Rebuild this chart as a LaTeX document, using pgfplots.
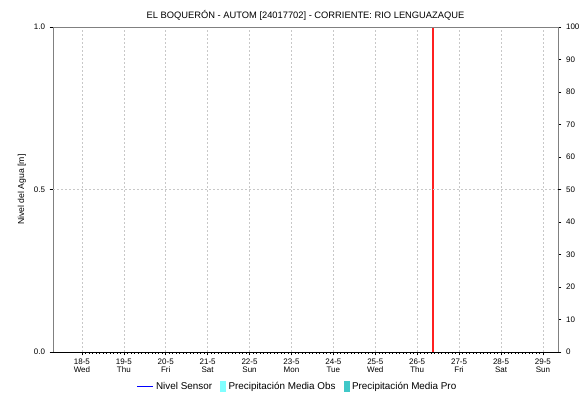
\documentclass[border=0pt]{standalone}
\usepackage{pgfplots}
\pgfplotsset{compat=1.18}
\usepackage{fontspec}
\setmainfont{Liberation Sans}

\definecolor{axgray}{HTML}{808080}
\definecolor{gridgray}{HTML}{C8C8C8}
\definecolor{obscyan}{HTML}{80FFFF}
\definecolor{procyan}{HTML}{40C8C8}
\definecolor{nowred}{HTML}{FF2020}

\begin{document}
\begin{tikzpicture}
\useasboundingbox (0,0) rectangle (441pt,302.25pt);
% left axis: water level
\begin{axis}[
  at={(39.75pt,38.25pt)}, anchor=south west,
  scale only axis, width=378.75pt, height=243.75pt,
  xmin=-0.69, xmax=11.36, ymin=0, ymax=1,
  axis x line*=bottom, axis y line*=left,
  x axis line style={black,-}, y axis line style={axgray,-},
  xtick={0,...,11},
  xticklabels={18-5\\Wed,19-5\\Thu,20-5\\Fri,21-5\\Sat,22-5\\Sun,23-5\\Mon,24-5\\Tue,25-5\\Wed,26-5\\Thu,27-5\\Fri,28-5\\Sat,29-5\\Sun},
  x tick label style={align=center,font=\fontsize{6}{6.5}\selectfont,yshift=1pt},
  minor x tick num=11,
  ytick={0,0.5,1}, yticklabels={0.0,0.5,1.0},
  y tick label style={font=\fontsize{6}{7}\selectfont},
  tick align=outside, major tick length=2.5pt, minor tick length=1.5pt,
  tick style={black,thin},
  xmajorgrids, extra y ticks={0.5}, extra y tick labels={},
  extra y tick style={ymajorgrids, grid style={gridgray,dash pattern=on 1.5pt off 1.5pt}},
  grid style={gridgray,dash pattern=on 1.5pt off 1.5pt},
  title={EL BOQUERÓN - AUTOM [24017702] - CORRIENTE: RIO LENGUAZAQUE},
  title style={font=\fontsize{7}{8}\selectfont, yshift=-4.5pt},
  legend style={at={(0.485,-0.075)}, anchor=north, draw=none, fill=none,
    legend columns=3, font=\fontsize{7.4}{8}\selectfont,
    /tikz/every even column/.append style={column sep=4pt}},
]
\addlegendimage{blue, thin, legend image code/.code={\draw[blue] (0pt,0pt) -- (12pt,0pt);}}
\addlegendentry{Nivel Sensor}
\addlegendimage{legend image code/.code={\fill[obscyan] (0pt,-3.8pt) rectangle (4pt,3.8pt);}}
\addlegendentry{Precipitación Media Obs}
\addlegendimage{legend image code/.code={\fill[procyan] (0pt,-3.8pt) rectangle (4pt,3.8pt);}}
\addlegendentry{Precipitación Media Pro}
% current time marker
\addplot[draw=nowred, line width=1pt, mark=none, forget plot] coordinates {(8.38,0) (8.38,1)};
\end{axis}
% right axis: precipitation
\begin{axis}[
  at={(39.75pt,38.25pt)}, anchor=south west,
  scale only axis, width=378.75pt, height=243.75pt,
  xmin=-0.69, xmax=11.36, ymin=0, ymax=100,
  axis x line*=top, axis y line*=right,
  x axis line style={axgray,-}, y axis line style={axgray,-},
  xtick=\empty,
  ytick={0,10,...,100},
  y tick label style={font=\fontsize{6}{7}\selectfont},
  /pgf/number format/assume math mode=true,
  tick align=outside, major tick length=2.5pt, tick style={black,thin},
  extra y ticks={50}, extra y tick labels={},
  extra y tick style={ymajorgrids, grid style={gridgray,dash pattern=on 1.5pt off 1.5pt}},
]
\addplot[draw=none, forget plot] coordinates {(0,0)};
\end{axis}
\node[rotate=90, font=\fontsize{6.5}{7}\selectfont] at (16.5pt,160pt) {Nivel del Agua [m]};
\node[rotate=-90, font=\fontsize{6.5}{7}\selectfont] at (444.5pt,152pt) {Precipitación [mm]};
\end{tikzpicture}
\end{document}
